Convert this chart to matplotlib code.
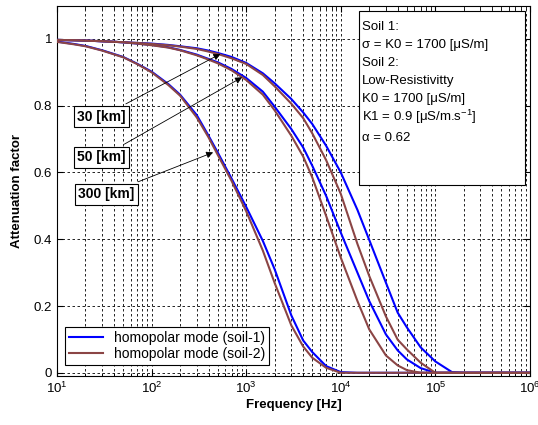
import matplotlib
matplotlib.use("Agg")
import matplotlib.pyplot as plt
from matplotlib.patches import Rectangle

plt.rcParams['font.family'] = ['Liberation Sans', 'DejaVu Sans']
plt.rcParams['mathtext.fontset'] = 'custom'
plt.rcParams['mathtext.rm'] = 'Liberation Sans'

# frequency samples [Hz]
freq = [10, 15, 20, 30, 50, 70, 100, 150, 200, 300, 400, 500, 700, 1000, 1500,
        2000, 3000, 4000, 5000, 7000, 1e4, 1.5e4, 2e4, 3e4, 4e4, 5e4, 7e4,
        1e5, 1.5e5, 2e5, 1e6]

# attenuation factor, soil-1 (blue)
soil1_30km = [0.997, 0.996, 0.995, 0.993, 0.990, 0.988, 0.986, 0.982, 0.978, 0.972,
              0.965, 0.958, 0.946, 0.928, 0.897, 0.867, 0.82, 0.78, 0.745, 0.68,
              0.60, 0.488, 0.398, 0.27, 0.18, 0.136, 0.076, 0.034, 0.002, 0.0, 0.0]
soil1_50km = [0.997, 0.996, 0.995, 0.993, 0.990, 0.986, 0.982, 0.975, 0.967, 0.953,
              0.94, 0.93, 0.91, 0.883, 0.842, 0.797, 0.73, 0.675, 0.62, 0.53,
              0.42, 0.30, 0.215, 0.115, 0.067, 0.04, 0.014, 0.0, 0.0, 0.0, 0.0]
soil1_300km = [0.992, 0.985, 0.979, 0.966, 0.946, 0.926, 0.902, 0.865, 0.833, 0.772,
               0.71, 0.66, 0.582, 0.497, 0.395, 0.31, 0.172, 0.097, 0.062, 0.02,
               0.002, 0.0, 0.0, 0.0, 0.0, 0.0, 0.0, 0.0, 0.0, 0.0, 0.0]

# soil-2 (brown)
soil2_30km = [0.997, 0.996, 0.995, 0.993, 0.990, 0.988, 0.985, 0.981, 0.977, 0.970,
              0.962, 0.955, 0.942, 0.925, 0.892, 0.858, 0.806, 0.763, 0.717, 0.637,
              0.536, 0.386, 0.29, 0.169, 0.099, 0.07, 0.03, 0.0, 0.0, 0.0, 0.0]
soil2_50km = [0.997, 0.996, 0.995, 0.993, 0.990, 0.986, 0.981, 0.974, 0.966, 0.951,
              0.938, 0.927, 0.906, 0.877, 0.833, 0.786, 0.71, 0.648, 0.585, 0.47,
              0.345, 0.215, 0.13, 0.052, 0.022, 0.008, 0.0, 0.0, 0.0, 0.0, 0.0]
soil2_300km = [0.991, 0.984, 0.978, 0.965, 0.945, 0.925, 0.90, 0.862, 0.83, 0.765,
               0.705, 0.653, 0.575, 0.484, 0.366, 0.269, 0.142, 0.079, 0.045, 0.015,
               0.0, 0.0, 0.0, 0.0, 0.0, 0.0, 0.0, 0.0, 0.0, 0.0, 0.0]

distance_labels = ['30 [km]', '50 [km]', '300 [km]']
arrow_targets = [(533, 0.955), (904, 0.885), (447, 0.66)]
label_anchor = [(29.6, 0.767), (29.6, 0.646), (33.4, 0.535)]

info_lines = ['Soil 1:',
              'σ = K0 = 1700 [μS/m]',
              'Soil 2:',
              'Low-Resistivitty',
              'K0 = 1700 [μS/m]',
              r'K1 = 0.9 [μS/m.s$^{\mathregular{-1}}$]',
              'α = 0.62']
legend_labels = ['homopolar mode (soil-1)', 'homopolar mode (soil-2)']

blue = '#0000ff'
brown = '#8b4545'

fig = plt.figure(figsize=(5.38, 4.25), dpi=100)
ax = fig.add_axes([0.106, 0.115, 0.879, 0.872])

for i, curve in enumerate([soil1_30km, soil1_50km, soil1_300km]):
    ax.plot(freq, curve, color=blue, lw=1.5,
            label=legend_labels[0] if i == 0 else None, zorder=3)
for i, curve in enumerate([soil2_30km, soil2_50km, soil2_300km]):
    ax.plot(freq, curve, color=brown, lw=1.5,
            label=legend_labels[1] if i == 0 else None, zorder=3)

ax.set_xscale('log')
ax.set_xlim(10, 1e6)
ax.set_ylim(-0.01, 1.1)
ax.set_yticks([0, 0.2, 0.4, 0.6, 0.8, 1.0])
ax.set_yticklabels(['0', '0.2', '0.4', '0.6', '0.8', '1'])

ax.grid(True, which='major', color='black', linestyle=(0, (3, 3)), lw=0.6)
ax.grid(True, which='minor', axis='x', color='black', linestyle=(0, (3, 3)), lw=0.6)
ax.tick_params(which='both', direction='in', top=True, right=True, labelsize=9.5)
ax.tick_params(which='major', length=4)
ax.tick_params(which='minor', length=2)
for sp in ax.spines.values():
    sp.set_linewidth(0.8)

ax.set_xlabel('Frequency [Hz]', fontweight='bold', fontsize=9.5, labelpad=2)
ax.set_ylabel('Attenuation factor', fontweight='bold', fontsize=9.5, labelpad=8)

# distance annotations
for lab, tgt, pos in zip(distance_labels, arrow_targets, label_anchor):
    ax.annotate(lab, xy=tgt, xytext=pos, ha='center', va='center',
                fontsize=10, fontweight='bold', zorder=5,
                bbox=dict(boxstyle='square,pad=0.25', fc='white', ec='black', lw=0.8),
                arrowprops=dict(arrowstyle='-|>', color='black', lw=0.6,
                                mutation_scale=10, shrinkA=3, shrinkB=0))

# parameters box
ax.add_patch(Rectangle((0.638, 0.516), 0.351, 0.468, transform=ax.transAxes,
                       fc='white', ec='black', lw=0.8, zorder=6))
line_y = [0.942, 0.893, 0.846, 0.797, 0.749, 0.700, 0.643]
for txt, yy in zip(info_lines, line_y):
    ax.text(0.645, yy, txt, transform=ax.transAxes, fontsize=9.5,
            ha='left', va='center', zorder=7)

leg = ax.legend(loc='lower left', bbox_to_anchor=(0.017, 0.03), borderaxespad=0,
                fontsize=10, fancybox=False, edgecolor='black', framealpha=1,
                handlelength=2.4, labelspacing=0.15, borderpad=0.3)
leg.get_frame().set_linewidth(0.8)
leg.set_zorder(8)

fig.savefig('out.png', dpi=100)
